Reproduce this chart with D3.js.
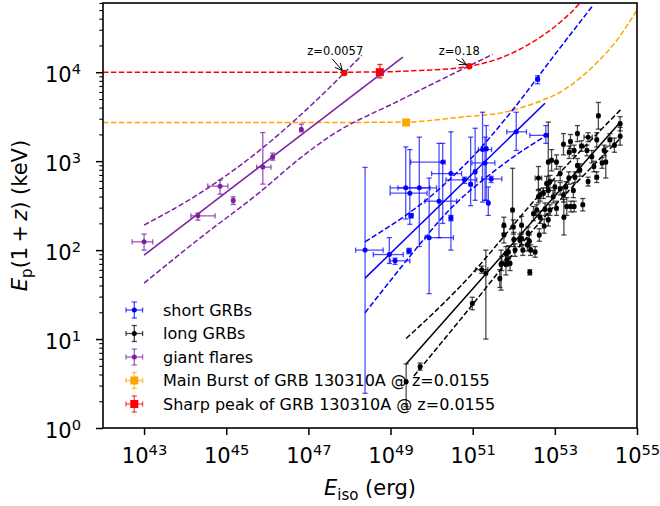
<!DOCTYPE html>
<html>
<head>
<meta charset="utf-8">
<script src="https://d3js.org/d3.v7.min.js"></script>
<style>
  body { margin: 0; background: #fff; }
  svg { display: block; }
  text { font-family: "DejaVu Sans", sans-serif; }
</style>
</head>
<body>
<svg id="chart" width="660" height="506"></svg>
<script>
// all values, stored as log10(E_iso / erg) and log10(E_p (1+z) / keV)

// short GRBs
var shortLogEiso = [48.38, 48.97, 49.11, 49.45, 49.37, 49.47, 49.70, 49.50, 49.94, 50.18, 50.27, 50.47,
                    50.47, 50.80, 50.95, 51.06, 51.24, 51.33, 51.30, 51.45, 51.38, 52.06, 52.78, 52.58];
var shortLogEp   = [2.00, 1.95, 1.88, 1.99, 2.70, 2.64, 2.70, 2.39, 2.14, 2.55, 2.99, 2.86,
                    2.36, 2.79, 2.74, 2.88, 3.13, 3.14, 2.98, 2.80, 2.53, 3.33, 3.29, 3.92];
var shortEisoLo  = [48.15, 48.58, 48.99, 49.40, 48.99, 48.99, 49.18, 49.45, 49.84, 49.84, 49.49, 50.00,
                    50.43, 50.35, 50.92, 51.03, 51.14, 51.30, 50.98, 51.22, 51.35, 51.83, 52.39, 52.54];
var shortEisoHi  = [48.82, 49.31, 49.47, 49.50, 50.12, 49.89, 49.96, 49.55, 50.53, 50.61, 50.33, 50.73,
                    50.51, 51.10, 50.98, 51.09, 51.46, 51.36, 51.54, 51.71, 51.41, 52.31, 52.84, 52.62];
var shortEpLo    = [0.39, 1.85, 1.84, 1.96, 2.35, 2.29, 2.04, 2.36, 1.51, 2.14, 2.30, 2.00,
                    2.33, 2.75, 2.50, 2.56, 2.54, 2.56, 2.56, 2.76, 2.39, 3.12, 3.20, 3.87];
var shortEpHi    = [2.93, 2.14, 1.91, 2.02, 3.16, 3.13, 3.27, 2.41, 2.81, 3.20, 3.20, 3.33,
                    2.39, 2.82, 3.27, 3.37, 3.55, 3.40, 3.27, 2.83, 2.71, 3.55, 3.40, 3.96];

// long GRBs (errors in dex)
var longLogEiso = [53.55, 53.81, 53.21, 53.65, 53.78, 53.35, 53.47, 54.02, 54.20, 54.59,
                   54.59, 54.34, 54.24, 53.95, 54.02, 53.81, 53.61, 53.49, 53.34, 53.13,
                   52.92, 52.84, 53.04, 52.60, 52.80, 52.88, 53.00, 53.13, 53.27, 53.45,
                   52.84, 52.72, 52.60, 52.96, 53.21, 53.04, 52.88, 53.29, 53.39, 53.47,
                   53.68, 53.22, 52.76, 52.56, 52.64, 52.48, 52.74, 52.62, 52.19, 51.97,
                   51.76, 51.76, 51.99, 52.00, 52.19, 52.35, 52.38, 52.33, 52.41, 52.52,
                   52.22, 52.03, 51.87, 51.81, 51.91, 51.71, 51.83, 52.39, 51.32, 51.22,
                   50.99, 51.66, 52.64, 52.84, 52.15, 51.69, 51.81, 49.72, 49.38, 54.06,
                   53.38, 54.45, 54.15, 53.90, 53.55];
var longLogEp   = [3.31, 3.27, 3.19, 3.17, 3.12, 3.10, 3.12, 3.24, 3.12, 3.42,
                   3.28, 3.24, 2.99, 2.94, 2.82, 2.77, 2.90, 2.82, 2.81, 2.86,
                   3.01, 2.99, 2.99, 2.81, 2.75, 2.77, 2.71, 2.69, 2.71, 2.67,
                   2.67, 2.64, 2.60, 2.60, 2.62, 2.47, 2.45, 2.49, 2.49, 2.49,
                   2.51, 2.37, 2.46, 2.45, 2.62, 2.41, 2.27, 2.17, 2.28, 2.45,
                   2.28, 2.17, 2.26, 2.12, 2.13, 2.19, 2.10, 2.06, 2.00, 1.98,
                   2.00, 2.00, 1.98, 1.96, 1.85, 1.85, 1.89, 1.75, 1.74, 1.78,
                   1.40, 1.68, 2.37, 2.34, 2.11, 1.84, 1.84, 0.69, 0.52, 3.51,
                   3.22, 3.18, 2.98, 3.05, 2.95];
var longEpErrLo = [.09, .05, .12, .06, .06, .07, .06, .08, .06, .08,
                   .10, .07, .18, .06, .06, .05, .07, .06, .07, .08,
                   .12, .32, .08, .13, .08, .07, .07, .07, .06, .08,
                   .07, .06, .07, .07, .08, .08, .06, .10, .06, .06,
                   .07, .20, .07, .06, .07, .08, .08, .07, .10, .18,
                   .09, .09, .08, .08, .07, .07, .07, .07, .06, .06,
                   .06, .07, .07, .08, .08, .08, .07, .03, .74, .04,
                   .07, .10, .07, .07, .07, .29, .12, .04, .28, .15,
                   .08, .08, .06, .07, .08];
var longEpErrHi = [.09, .05, .12, .06, .06, .07, .06, .08, .06, .08,
                   .10, .07, .17, .06, .06, .05, .07, .06, .07, .08,
                   .12, .45, .08, .13, .08, .07, .07, .07, .06, .08,
                   .07, .06, .07, .07, .08, .08, .06, .10, .06, .06,
                   .07, .20, .07, .06, .07, .08, .08, .07, .10, .47,
                   .09, .09, .08, .08, .07, .07, .07, .07, .06, .06,
                   .06, .07, .07, .08, .08, .08, .07, .03, .26, .04,
                   .07, .10, .07, .07, .07, .16, .12, .04, .20, .15,
                   .08, .08, .06, .07, .08];
var longEisoErr = [.03, .10, .03, .04, .03, .04, .03, .03, .03, .03,
                   .03, .04, .03, .03, .04, .03, .03, .03, .03, .03,
                   .03, .03, .03, .08, .03, .03, .03, .03, .03, .03,
                   .03, .03, .03, .03, .03, .03, .03, .03, .03, .03,
                   .03, .03, .03, .03, .03, .03, .03, .03, .03, .03,
                   .03, .03, .03, .03, .03, .03, .03, .03, .03, .03,
                   .03, .03, .03, .03, .03, .03, .03, .03, .03, .15,
                   .03, .03, .03, .03, .03, .03, .03, .03, .03, .03,
                   .03, .03, .03, .03, .03];

// giant flares
var flareLogEiso = [43.00, 44.31, 44.85, 45.17, 45.89, 46.13, 46.83];
var flareLogEp   = [2.093, 2.385, 2.719, 2.558, 2.933, 3.048, 3.356];
var flareEisoLo  = [42.71, 44.14, 44.55, 45.14, 45.74, 46.10, 46.80];
var flareEisoHi  = [43.21, 44.73, 45.04, 45.20, 46.09, 46.16, 46.85];
var flareEpLo    = [2.00, 2.337, 2.629, 2.513, 2.742, 3.011, 3.329];
var flareEpHi    = [2.18, 2.416, 2.787, 2.599, 3.322, 3.090, 3.416];

// GRB 130310A
var mainBurst = { logE: 49.38, logEp: 3.435, eLo: 49.36, eHi: 49.40, pLo: 3.425, pHi: 3.445 };
var sharpPeak = { logE: 48.74, logEp: 4.00, eLo: 48.71, eHi: 48.77, pLo: 3.936, pHi: 4.087 };

// the same two bursts moved to other redshifts
var sharpCurveLogE  = [42.0, 47.5, 48.74, 49.72, 50.20, 50.92, 51.66, 52.15, 52.64, 53.13, 53.56, 53.70];
var sharpCurveLogEp = [4.00, 4.00, 4.003, 4.02, 4.03, 4.067, 4.157, 4.258, 4.393, 4.562, 4.753, 4.83];
var mainCurveLogE   = [42.0, 47.5, 49.38, 50.77, 51.79, 52.15, 52.64, 53.13, 53.61, 54.03, 54.51, 54.95, 55.0];
var mainCurveLogEp  = [3.435, 3.435, 3.44, 3.498, 3.551, 3.596, 3.674, 3.775, 3.933, 4.112, 4.36, 4.663, 4.70];
var zLabels   = ["z=0.0057", "z=0.18"];
var zLogE     = [47.874, 50.917];
var zLogEp    = [3.992, 4.067];

// fitted relations and their bands
var flareFitLogE = [43.0, 49.3],   flareFitLogEp = [1.944, 4.169];
var flareUpLogE  = [43.0, 44.36, 45.82, 47.28, 48.30];
var flareUpLogEp = [2.281, 2.640, 3.124, 3.722, 4.191];
var flareLowLogE  = [43.0, 44.36, 45.82, 46.80, 47.53, 49.23, 51.49];
var flareLowLogEp = [1.629, 2.135, 2.652, 3.034, 3.281, 3.685, 4.202];

var shortFitLogE = [48.38, 52.76], shortFitLogEp = [1.685, 3.652];
var shortUpLogE  = [48.38, 50.20, 51.01, 51.91, 53.08, 53.93];
var shortUpLogEp = [2.093, 2.693, 3.056, 3.539, 4.247, 4.753];
var shortLowLogE  = [48.38, 49.76, 50.20, 51.66, 52.80];
var shortLowLogEp = [1.296, 2.093, 2.337, 2.936, 3.292];

var longFitLogE = [49.38, 54.59], longFitLogEp = [0.719, 3.438];
var longUpLogE  = [49.38, 50.69, 52.64, 54.63];
var longUpLogEp = [1.006, 1.588, 2.629, 3.592];
var longLowLogE  = [49.57, 50.69, 52.64, 54.63];
var longLowLogEp = [0.584, 1.213, 2.315, 3.273];

// axes
var xTickExp = [43, 45, 47, 49, 51, 53, 55];
var yTickExp = [0, 1, 2, 3, 4];

var legendLabels  = ["short GRBs", "long GRBs", "giant flares",
                     "Main Burst of GRB 130310A @ z=0.0155", "Sharp peak of GRB 130310A @ z=0.0155"];

var cShort = "#0000ff", cLong = "#000000", cFlare = "#7b22a2", cMain = "#ffa500", cSharp = "#ff0000";
var legendColors  = [cShort, cLong, cFlare, cMain, cSharp];
var legendSquare  = [false, false, false, true, true];

function p10(v) { return Math.pow(10, v); }

var W = 660, H = 506;
var margin = { left: 103, right: 23, top: 3, bottom: 78 };
var x = d3.scaleLog().domain([1e42, 1e55]).range([margin.left, W - margin.right]);
var y = d3.scaleLog().domain([1, 6e4]).range([H - margin.bottom, margin.top]);

var svg = d3.select("#chart");
svg.append("defs").append("clipPath").attr("id", "plotClip").append("rect")
   .attr("x", margin.left).attr("y", margin.top)
   .attr("width", W - margin.left - margin.right)
   .attr("height", H - margin.top - margin.bottom);

var plot = svg.append("g").attr("clip-path", "url(#plotClip)");

function path(lx, ly, curve) {
  var pts = lx.map(function (v, i) { return [v, ly[i]]; });
  return d3.line()
    .x(function (d) { return x(p10(d[0])); })
    .y(function (d) { return y(p10(d[1])); })
    .curve(curve || d3.curveLinear)(pts);
}

function drawLine(lx, ly, color, dashed, curve) {
  plot.append("path")
    .attr("d", path(lx, ly, curve))
    .attr("fill", "none")
    .attr("stroke", color)
    .attr("stroke-width", 1.5)
    .attr("stroke-dasharray", dashed ? "5.5,2.4" : null);
}

function errorbars(ex, ey, exLo, exHi, eyLo, eyHi, color, barOpacity, square) {
  var cap = 2.6;
  ex.forEach(function (v, i) {
    var cx = x(p10(v)), cy = y(p10(ey[i]));
    var x0 = x(p10(exLo[i])), x1 = x(p10(exHi[i]));
    var y0 = y(p10(eyLo[i])), y1 = y(p10(eyHi[i]));
    var b = plot.append("g").attr("stroke", color).attr("stroke-opacity", barOpacity).attr("stroke-width", 1.3);
    b.append("line").attr("x1", x0).attr("x2", x1).attr("y1", cy).attr("y2", cy);
    b.append("line").attr("x1", cx).attr("x2", cx).attr("y1", y0).attr("y2", y1);
    [x0, x1].forEach(function (xx) {
      b.append("line").attr("x1", xx).attr("x2", xx).attr("y1", cy - cap).attr("y2", cy + cap);
    });
    [y0, y1].forEach(function (yy) {
      b.append("line").attr("x1", cx - cap).attr("x2", cx + cap).attr("y1", yy).attr("y2", yy);
    });
    if (square) {
      plot.append("rect").attr("x", cx - 4).attr("y", cy - 4).attr("width", 8).attr("height", 8).attr("fill", color);
    } else {
      plot.append("circle").attr("cx", cx).attr("cy", cy).attr("r", 2.5).attr("fill", color);
    }
  });
}

// redshift tracks of GRB 130310A
drawLine(mainCurveLogE, mainCurveLogEp, cMain, true, d3.curveMonotoneX);
drawLine(sharpCurveLogE, sharpCurveLogEp, cSharp, true, d3.curveMonotoneX);

// data
errorbars(shortLogEiso, shortLogEp, shortEisoLo, shortEisoHi, shortEpLo, shortEpHi, cShort, 0.7, false);
errorbars(longLogEiso, longLogEp,
          longLogEiso.map(function (v, i) { return v - longEisoErr[i]; }),
          longLogEiso.map(function (v, i) { return v + longEisoErr[i]; }),
          longLogEp.map(function (v, i) { return v - longEpErrLo[i]; }),
          longLogEp.map(function (v, i) { return v + longEpErrHi[i]; }),
          cLong, 0.7, false);
errorbars(flareLogEiso, flareLogEp, flareEisoLo, flareEisoHi, flareEpLo, flareEpHi, cFlare, 0.75, false);
errorbars([mainBurst.logE], [mainBurst.logEp], [mainBurst.eLo], [mainBurst.eHi], [mainBurst.pLo], [mainBurst.pHi], cMain, 0.7, true);
errorbars([sharpPeak.logE], [sharpPeak.logEp], [sharpPeak.eLo], [sharpPeak.eHi], [sharpPeak.pLo], [sharpPeak.pHi], cSharp, 0.85, true);

// fits
drawLine(flareFitLogE, flareFitLogEp, cFlare, false);
drawLine(flareUpLogE, flareUpLogEp, cFlare, true, d3.curveMonotoneX);
drawLine(flareLowLogE, flareLowLogEp, cFlare, true, d3.curveMonotoneX);
drawLine(shortFitLogE, shortFitLogEp, cShort, false);
drawLine(shortUpLogE, shortUpLogEp, cShort, true, d3.curveMonotoneX);
drawLine(shortLowLogE, shortLowLogEp, cShort, true, d3.curveMonotoneX);
drawLine(longFitLogE, longFitLogEp, cLong, false);
drawLine(longUpLogE, longUpLogEp, cLong, true, d3.curveMonotoneX);
drawLine(longLowLogE, longLowLogEp, cLong, true, d3.curveMonotoneX);

// redshift markers with annotations
var textOffsets = [[-9, -18], [-10, -11]];
zLogE.forEach(function (v, i) {
  var px = x(p10(v)), py = y(p10(zLogEp[i]));
  plot.append("circle").attr("cx", px).attr("cy", py).attr("r", 3.2).attr("fill", cSharp);
  var tx = px + textOffsets[i][0], ty = py + textOffsets[i][1];
  svg.append("text").attr("x", tx).attr("y", ty).attr("text-anchor", "middle")
     .attr("font-size", 11.5).attr("fill", "#000").text(zLabels[i]);
  var ax = tx - 3, ay = ty + 4;
  var dx = px - ax, dy = py - ay, len = Math.sqrt(dx * dx + dy * dy);
  var ux = dx / len, uy = dy / len;
  var hx = ax + ux * (len - 3), hy = ay + uy * (len - 3);
  var a = svg.append("g").attr("stroke", "#000").attr("stroke-width", 1).attr("fill", "none");
  a.append("line").attr("x1", ax).attr("y1", ay).attr("x2", hx).attr("y2", hy);
  [0.45, -0.45].forEach(function (ang) {
    var c = Math.cos(ang), s = Math.sin(ang);
    var bx = -(ux * c - uy * s), by = -(ux * s + uy * c);
    a.append("line").attr("x1", hx).attr("y1", hy).attr("x2", hx + bx * 8).attr("y2", hy + by * 8);
  });
});

// axes
var xAxis = svg.append("g")
  .attr("transform", "translate(0," + (H - margin.bottom) + ")")
  .call(d3.axisBottom(x).tickValues(xTickExp.map(p10)).tickSize(7).tickFormat(function () { return ""; }));
xAxis.select(".domain").remove();
xAxis.attr("font-size", 21).attr("font-family", "DejaVu Sans");
xAxis.selectAll(".tick line").attr("stroke-width", 1.5);
xAxis.selectAll(".tick text").each(function (d) {
  var t = d3.select(this).attr("y", 35).attr("dy", null).attr("fill", "#000");
  t.append("tspan").text("10");
  t.append("tspan").attr("dy", -8).attr("font-size", 14.7).text(Math.round(Math.log10(d)));
});

var yAxis = svg.append("g")
  .attr("transform", "translate(" + margin.left + ",0)")
  .call(d3.axisLeft(y).tickValues(yTickExp.map(p10)).tickSize(7).tickFormat(function () { return ""; }));
yAxis.select(".domain").remove();
yAxis.attr("font-size", 21).attr("font-family", "DejaVu Sans");
yAxis.selectAll(".tick line").attr("stroke-width", 1.5);
yAxis.selectAll(".tick text").each(function (d) {
  var t = d3.select(this).attr("x", -22).attr("y", 9.5).attr("dy", null).attr("fill", "#000");
  t.append("tspan").text("10");
  t.append("tspan").attr("dy", -8).attr("font-size", 14.7).text(Math.round(Math.log10(d)));
});

var minorY = [];
for (var k = 0; k < 5; k++) {
  for (var m = 2; m <= 9; m++) { if (m * p10(k) <= 6e4) minorY.push(m * p10(k)); }
}
var yMinor = svg.append("g")
  .attr("transform", "translate(" + margin.left + ",0)")
  .call(d3.axisLeft(y).tickValues(minorY).tickSize(3.7).tickFormat(function () { return ""; }));
yMinor.select(".domain").remove();
yMinor.selectAll(".tick line").attr("stroke-width", 1.1);

// frame
svg.append("rect")
  .attr("x", margin.left).attr("y", margin.top)
  .attr("width", W - margin.left - margin.right)
  .attr("height", H - margin.top - margin.bottom)
  .attr("fill", "none").attr("stroke", "#000").attr("stroke-width", 1.6);

// axis labels
var xl = svg.append("text")
  .attr("x", (margin.left + W - margin.right) / 2).attr("y", 495)
  .attr("text-anchor", "middle").attr("font-size", 21).attr("fill", "#000");
xl.append("tspan").attr("font-style", "italic").text("E");
xl.append("tspan").attr("font-size", 15).attr("dy", 5).text("iso");
xl.append("tspan").attr("dy", -5).text(" (erg)");

var yl = svg.append("text")
  .attr("transform", "translate(27," + ((margin.top + H - margin.bottom) / 2) + ") rotate(-90)")
  .attr("text-anchor", "middle").attr("font-size", 21).attr("fill", "#000");
yl.append("tspan").attr("font-style", "italic").text("E");
yl.append("tspan").attr("font-size", 15).attr("dy", 5).text("p");
yl.append("tspan").attr("dy", -5).text("(1\u2009+\u2009");
yl.append("tspan").attr("font-style", "italic").text("z");
yl.append("tspan").text(") (keV)");

// legend
var legend = svg.append("g");
legendLabels.forEach(function (lab, i) {
  var ly = 310 + i * 23.5, lx = 134.3;
  var g = legend.append("g").attr("stroke", legendColors[i]).attr("stroke-opacity", 0.7).attr("stroke-width", 1.3);
  g.append("line").attr("x1", lx - 8.3).attr("x2", lx + 8.3).attr("y1", ly).attr("y2", ly);
  g.append("line").attr("x1", lx).attr("x2", lx).attr("y1", ly - 8).attr("y2", ly + 8);
  [lx - 8.3, lx + 8.3].forEach(function (xx) {
    g.append("line").attr("x1", xx).attr("x2", xx).attr("y1", ly - 2.6).attr("y2", ly + 2.6);
  });
  [ly - 8, ly + 8].forEach(function (yy) {
    g.append("line").attr("x1", lx - 2.6).attr("x2", lx + 2.6).attr("y1", yy).attr("y2", yy);
  });
  if (legendSquare[i]) {
    legend.append("rect").attr("x", lx - 4).attr("y", ly - 4).attr("width", 8).attr("height", 8).attr("fill", legendColors[i]);
  } else {
    legend.append("circle").attr("cx", lx).attr("cy", ly).attr("r", 2.5).attr("fill", legendColors[i]);
  }
  legend.append("text").attr("x", 163).attr("y", ly + 5.8).attr("font-size", 16).attr("fill", "#000").text(lab);
});
</script>
</body>
</html>
